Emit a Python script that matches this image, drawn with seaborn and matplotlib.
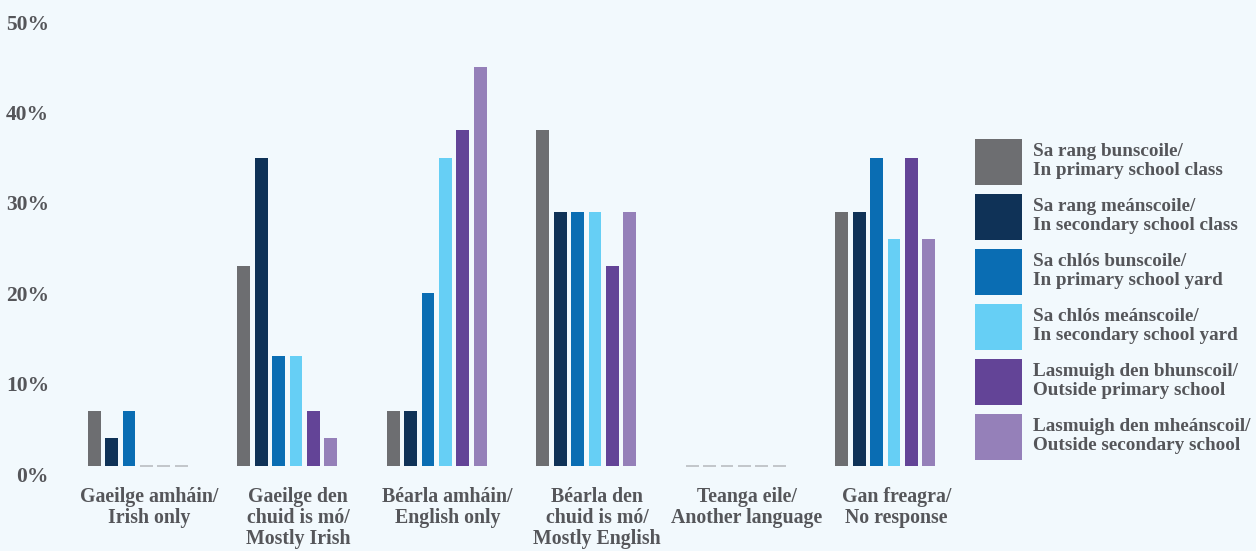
import pandas as pd
import seaborn as sns
import matplotlib.pyplot as plt
import matplotlib.transforms as mtransforms
from matplotlib.patches import Patch

categories = [
    "Gaeilge amháin/\nIrish only",
    "Gaeilge den\nchuid is mó/\nMostly Irish",
    "Béarla amháin/\nEnglish only",
    "Béarla den\nchuid is mó/\nMostly English",
    "Teanga eile/\nAnother language",
    "Gan freagra/\nNo response",
]
series = [
    "Sa rang bunscoile/\nIn primary school class",
    "Sa rang meánscoile/\nIn secondary school class",
    "Sa chlós bunscoile/\nIn primary school yard",
    "Sa chlós meánscoile/\nIn secondary school yard",
    "Lasmuigh den bhunscoil/\nOutside primary school",
    "Lasmuigh den mheánscoil/\nOutside secondary school",
]
primary_class = [7, 23, 7, 38, 0, 29]
secondary_class = [4, 35, 7, 29, 0, 29]
primary_yard = [7, 13, 20, 29, 0, 35]
secondary_yard = [0, 13, 35, 29, 0, 26]
outside_primary = [0, 7, 38, 23, 0, 35]
outside_secondary = [0, 4, 45, 29, 0, 26]
yticks = [0, 10, 20, 30, 40, 50]

colors = ["#6d6e71", "#0f3257", "#0a6db3", "#66cff5", "#634497", "#9580b9"]
bg = "#f2f9fd"
txt = "#55565a"

values = [primary_class, secondary_class, primary_yard,
          secondary_yard, outside_primary, outside_secondary]
rows = []
for s, vals in zip(series, values):
    for c, v in zip(categories, vals):
        rows.append({"cat": c, "series": s, "value": v})
df = pd.DataFrame(rows)

sns.set_style("white")
plt.rcParams["font.family"] = "serif"
plt.rcParams["font.serif"] = ["Liberation Serif", "DejaVu Serif"]
plt.rcParams["font.weight"] = "bold"
fs_x = 14.3
fs_leg = 13.8

fig = plt.figure(figsize=(12.56, 5.51), dpi=100, facecolor=bg)
ax = fig.add_axes([60 / 1256, 77 / 551, 900 / 1256, 452 / 551], facecolor=bg)

sns.barplot(data=df, x="cat", y="value", hue="series", order=categories,
            hue_order=series, palette=colors, saturation=1, width=0.70,
            gap=0.26, legend=False, ax=ax)

# bars sit slightly above the 0% label line, zero values drawn as thin grey ticks
base = 0.9
zero_cols = ["#c3c7cb", "#dadde0"]
for i, p in enumerate(ax.patches):
    h = p.get_height()
    if h <= 0:
        p.set_y(base - 0.1)
        p.set_height(0.2)
        p.set_facecolor(zero_cols[i % 2])
    else:
        p.set_y(base)
        p.set_height(h - base)
    p.set_edgecolor("none")

ax.set_xlim(-0.52, 5.5)
ax.set_ylim(0, 50)
ax.set_yticks(yticks)
ax.set_yticklabels([f"{t}%" for t in yticks])
ax.set_xlabel("")
ax.set_ylabel("")
ax.tick_params(axis="y", length=0, pad=8, labelsize=15.5, labelcolor=txt)
ax.tick_params(axis="x", length=0, pad=9.5, labelsize=fs_x, labelcolor=txt)
# category labels sit a little right of the bar groups
shift = mtransforms.ScaledTranslation(11 / 100, 0, fig.dpi_scale_trans)
for lab in ax.get_xticklabels():
    lab.set_multialignment("center")
    lab.set_linespacing(1.06)
    lab.set_transform(lab.get_transform() + shift)
sns.despine(ax=ax, left=True, bottom=True)

handles = [Patch(facecolor=c, edgecolor="none") for c in colors]
leg = fig.legend(handles, series, loc="upper left",
                 bbox_to_anchor=(975 / 1256, 1 - 139 / 551),
                 frameon=False, fontsize=fs_leg, handlelength=2.45,
                 handleheight=3.315, handletextpad=0.57, labelspacing=0.47,
                 borderpad=0, borderaxespad=0)
for t in leg.get_texts():
    t.set_color(txt)
    t.set_linespacing(1.22)

fig.savefig("out.png", dpi=100, facecolor=bg)
